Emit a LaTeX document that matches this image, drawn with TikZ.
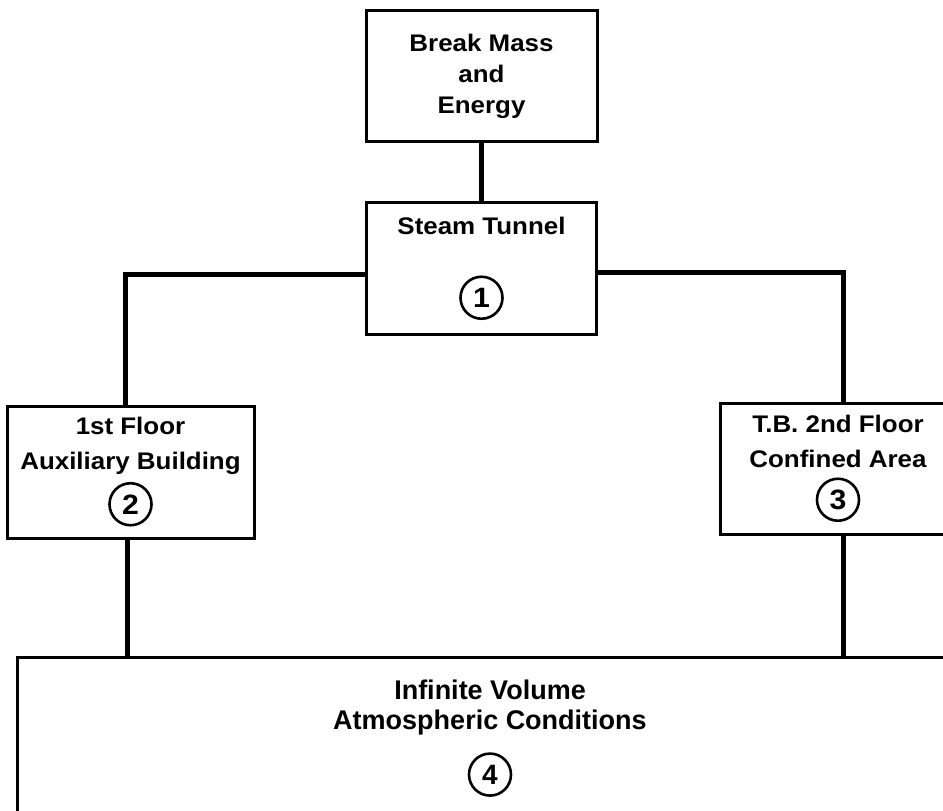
\documentclass[tikz,border=0pt]{standalone}
\usepackage{fontspec}
\setmainfont{Liberation Sans}
\newfontfamily\widesans{Liberation Sans}[FakeStretch=1.08]
\usetikzlibrary{positioning}

% circled volume number
\newcommand{\ringnum}[1]{\tikz[baseline=(ring.base)]\node[draw, circle, line width=2.6pt, minimum size=42pt, inner sep=0pt, font=\fontsize{28}{28}\selectfont] (ring) {#1};}

\begin{document}
\begin{tikzpicture}[x=1pt, y=1pt,
  box/.style={draw, line width=3pt, align=center, inner sep=0pt, font=\widesans\bfseries\fontsize{24}{35}\selectfont},
  link/.style={line width=5pt}
]
\useasboundingbox (0,0) rectangle (943,-811);
\clip (0,0) rectangle (943,-811);

\node[box, minimum width=231pt, minimum height=131pt, font=\widesans\bfseries\fontsize{24}{31}\selectfont] (brk) at (481.5,-76) {Break Mass\\and\\Energy};
\node[box, minimum width=230pt, minimum height=132pt, below=58pt of brk] (steam) {Steam Tunnel\\[38pt]\ringnum{1}};
\node[box, minimum width=247pt, minimum height=132pt] (aux) at (130.5,-472) {1st Floor\\Auxiliary Building\\[6pt]\ringnum{2}};
\node[box, minimum width=236pt, minimum height=131pt] (tb) at (838,-468.5) {T.B. 2nd Floor\\Confined Area\\[7pt]\ringnum{3}};
\node[box, minimum width=946pt, minimum height=163pt, font=\bfseries\fontsize{27}{30}\selectfont] (atm) at (490,-738.5) {Infinite Volume\\Atmospheric Conditions\\[16pt]\ringnum{4}};

% connectors
\draw[link] (brk) -- (steam);
\draw[link] ([yshift=-6pt]steam.west) -| ([xshift=-5.5pt]aux.north);
\draw[link] ([yshift=-4pt]steam.east) -| ([xshift=5pt]tb.north);
\draw[link] ([xshift=-3.5pt]aux.south) -- ([xshift=-3.5pt]aux.south |- atm.north);
\draw[link] ([xshift=5pt]tb.south) -- ([xshift=5pt]tb.south |- atm.north);
\end{tikzpicture}
\end{document}
